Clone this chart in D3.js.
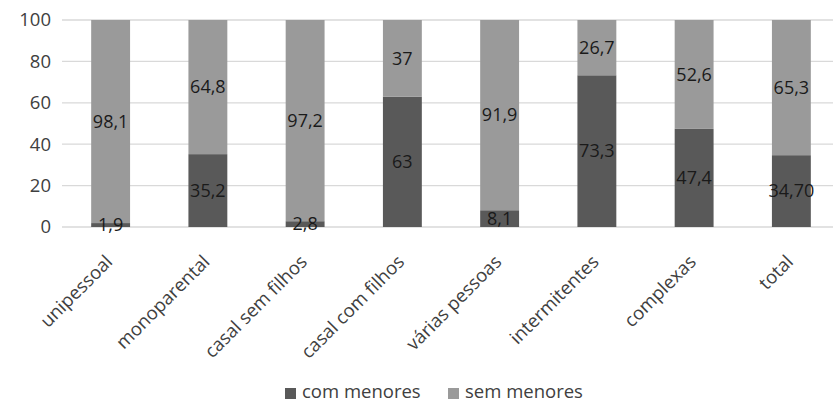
<!DOCTYPE html>
<html><head><meta charset="utf-8">
<script src="https://cdn.jsdelivr.net/npm/d3@7"></script>
<style>body{margin:0;background:#fff}svg{display:block}text{font-family:"Open Sans",sans-serif}</style>
</head><body><svg id="c" width="833" height="404"></svg>
<script>
const categories = ["unipessoal","monoparental","casal sem filhos","casal com filhos","várias pessoas","intermitentes","complexas","total"];
const comMenores = [1.9,35.2,2.8,63,8.1,73.3,47.4,34.70];
const semMenores = [98.1,64.8,97.2,37,91.9,26.7,52.6,65.3];
const comLabels = ["1,9","35,2","2,8","63","8,1","73,3","47,4","34,70"];
const semLabels = ["98,1","64,8","97,2","37","91,9","26,7","52,6","65,3"];
const yTicks = [0,20,40,60,80,100];
const seriesNames = ["com menores","sem menores"];
const colors = ["#595959","#9a9a9a"];

const svg = d3.select("#c");
const x = d3.scaleBand().domain(categories).range([62,840]).paddingInner(0.6).paddingOuter(0.3);
const y = d3.scaleLinear().domain([0,100]).range([227,20]);

const grid = svg.append("g");
grid.selectAll("line").data(yTicks).join("line")
  .attr("x1",62).attr("x2",840).attr("y1",d=>y(d)).attr("y2",d=>y(d))
  .attr("stroke","#d9d9d9").attr("stroke-width",1.3);
svg.append("g").selectAll("text").data(yTicks).join("text")
  .attr("x",51).attr("y",d=>y(d)).attr("dy","0.35em").attr("text-anchor","end")
  .attr("font-size",18.5).attr("fill","#404040").text(d=>d);

const rows = categories.map((c,i)=>({cat:c, com:comMenores[i], sem:semMenores[i], cl:comLabels[i], sl:semLabels[i]}));
const bars = svg.append("g");
bars.selectAll("rect.com").data(rows).join("rect").attr("class","com")
  .attr("x",d=>x(d.cat)).attr("width",x.bandwidth())
  .attr("y",d=>y(d.com)).attr("height",d=>y(0)-y(d.com)).attr("fill",colors[0]);
bars.selectAll("rect.sem").data(rows).join("rect").attr("class","sem")
  .attr("x",d=>x(d.cat)).attr("width",x.bandwidth())
  .attr("y",d=>y(d.com+d.sem)).attr("height",d=>y(d.com)-y(d.com+d.sem)).attr("fill",colors[1]);

const lab = svg.append("g").attr("font-size",18).attr("fill","#1a1a1a").attr("text-anchor","middle");
lab.selectAll("text.c").data(rows).join("text").attr("class","c")
  .attr("x",d=>x(d.cat)+x.bandwidth()/2).attr("y",d=>y(d.com/2)).attr("dy","0.35em").text(d=>d.cl);
lab.selectAll("text.s").data(rows).join("text").attr("class","s")
  .attr("x",d=>x(d.cat)+x.bandwidth()/2).attr("y",d=>y(d.com+d.sem/2)).attr("dy","0.35em").text(d=>d.sl);

svg.append("g").selectAll("text").data(categories).join("text")
  .attr("transform",d=>`translate(${x(d)+x.bandwidth()/2+3},${y(0)+36}) rotate(-45)`)
  .attr("text-anchor","end").attr("font-size",18.5).attr("fill","#404040").text(d=>d);

const leg = svg.append("g");
const legX = [285,448];
seriesNames.forEach((n,i)=>{
  leg.append("rect").attr("x",legX[i]).attr("y",388).attr("width",11).attr("height",11).attr("fill",colors[i]);
  leg.append("text").attr("x",legX[i]+17).attr("y",398).attr("font-size",18.5).attr("fill","#404040").text(n);
});
</script></body></html>
